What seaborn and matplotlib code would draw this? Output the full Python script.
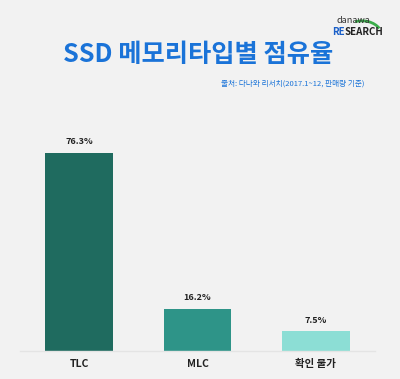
import matplotlib
matplotlib.use("Agg")
import matplotlib.pyplot as plt
from matplotlib.patches import Arc
import seaborn as sns
import pandas as pd

# chart data
categories = ["TLC", "MLC", "확인 불가"]
shares = [76.3, 16.2, 7.5]
value_labels = ["76.3%", "16.2%", "7.5%"]
bar_colors = ["#1f6b5f", "#2e9488", "#8cded5"]

title_text = "SSD 메모리타입별 점유율"
source_text = "출처: 다나와 리서치(2017.1~12, 판매량 기준)"

sns.set_theme(style="white")
plt.rcParams["font.family"] = ["Noto Sans CJK KR", "DejaVu Sans"]

bg = "#f2f2f2"
fig = plt.figure(figsize=(4.0, 3.79), dpi=100, facecolor=bg)
ax = fig.add_axes([0.05, 0.074, 0.8875, 0.686], facecolor=bg)

df = pd.DataFrame({"type": categories, "share": shares})
sns.barplot(data=df, x="type", y="share", hue="type", palette=bar_colors,
            width=0.57, saturation=1, legend=False, linewidth=0, ax=ax)

for i, (v, lab) in enumerate(zip(shares, value_labels)):
    ax.text(i, v + 2.6, lab, ha="center", va="bottom", fontsize=6.5,
            fontweight="bold", color="#222222")

ax.set_xlim(-0.5, 2.5)
ax.set_ylim(0, 100)
ax.set_xlabel("")
ax.set_ylabel("")
ax.set_yticks([])
ax.tick_params(axis="x", length=0, pad=6, labelsize=7.5)
for t in ax.get_xticklabels():
    t.set_fontweight("bold")
    t.set_color("#222222")
for s in ["top", "right", "left"]:
    ax.spines[s].set_visible(False)
ax.spines["bottom"].set_color("#e4e4e4")
ax.spines["bottom"].set_linewidth(1)

# title and source
fig.text(0.495, 0.857, title_text, ha="center", va="center", fontsize=18.2,
         fontweight="bold", color="#1a73d8")
fig.text(0.912, 0.78, source_text, ha="right", va="center", fontsize=5.5,
         color="#1a73d8")

# danawa research logo
fig.text(0.8825, 0.945, "danawa", ha="center", va="center", fontsize=6.5,
         color="#333333")
fig.text(0.862, 0.916, "RE", ha="right", va="center", fontsize=7,
         fontweight="black", color="#1a5fc8")
fig.text(0.862, 0.916, "SEARCH", ha="left", va="center", fontsize=7,
         fontweight="black", color="#222222")
logo = Arc((0.905, 0.905), 0.1, 0.08, theta1=25, theta2=115,
           transform=fig.transFigure, color="#3aae4a", lw=2)
fig.patches.append(logo)

fig.savefig("out.png", dpi=100, facecolor=bg)
